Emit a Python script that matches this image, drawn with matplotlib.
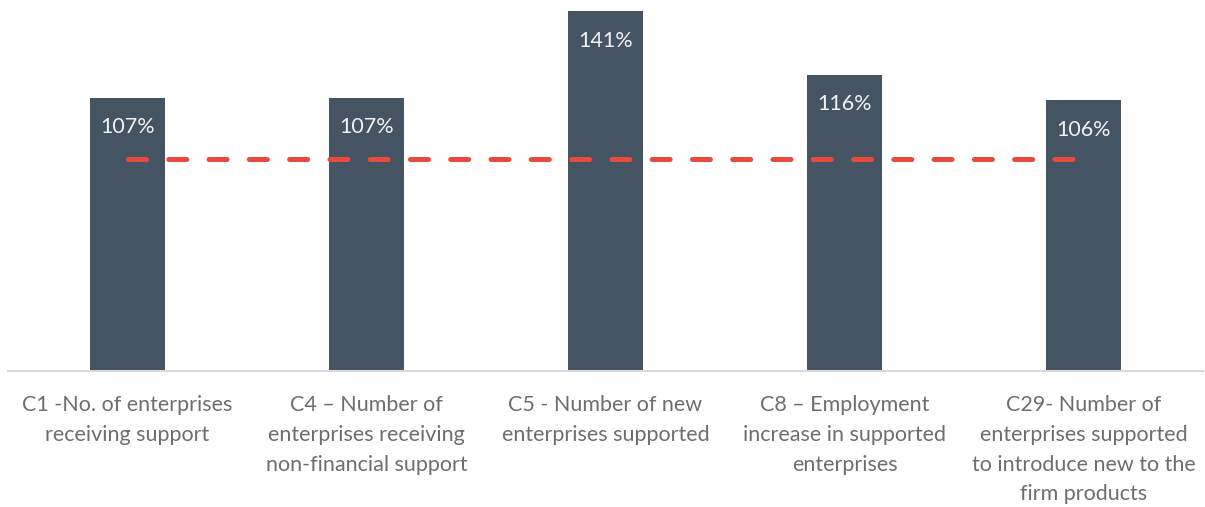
import numpy as np
import matplotlib.pyplot as plt
from matplotlib import font_manager

# indicator categories and achievement rates (%)
categories = [
    "C1 -No. of enterprises\nreceiving support",
    "C4 \u2013 Number of\nenterprises receiving\nnon-financial support",
    "C5 - Number of new\nenterprises supported",
    "C8 \u2013 Employment\nincrease in supported\nenterprises",
    "C29- Number of\nenterprises supported\nto introduce new to the\nfirm products",
]
achieved = [107, 107, 141, 116, 106]
target_line = [83, 83, 83, 83, 83]

font = "Lato"
names = {f.name for f in font_manager.fontManager.ttflist}
if font not in names:
    font = "DejaVu Sans"
plt.rcParams["font.family"] = [font, "DejaVu Sans"]
plt.rcParams["lines.scale_dashes"] = False

fig = plt.figure(figsize=(12.05, 5.07), dpi=100)
ax = fig.add_axes([8 / 1205, 1 - 371 / 507, 1195 / 1205, 371 / 507])

x = np.arange(len(categories))
ax.bar(x, achieved, width=0.31, color="#445463", zorder=2)
ax.plot(x, target_line, color="#E84A3C", lw=3.6, ls=(0, (13, 16)),
        dash_capstyle="round", zorder=3)

for xi, v in zip(x, achieved):
    ax.annotate(f"{v}%", (xi, v), xytext=(0, -21.5), textcoords="offset points",
                ha="center", va="center", color="#F2F2F2", fontsize=15.5)

ax.set_xlim(-0.5, len(categories) - 0.5)
ax.set_ylim(0, 145.2)
ax.set_xticks(x)
ax.set_xticklabels(categories, fontsize=15.5, color="#6E6E6E",
                   linespacing=1.6)
ax.tick_params(axis="x", length=0, pad=17.5)
ax.set_yticks([])
for side in ["top", "left", "right"]:
    ax.spines[side].set_visible(False)
ax.spines["bottom"].set_color("#D9D9D9")
ax.spines["bottom"].set_linewidth(1.5)

fig.savefig("out.png", dpi=100)
